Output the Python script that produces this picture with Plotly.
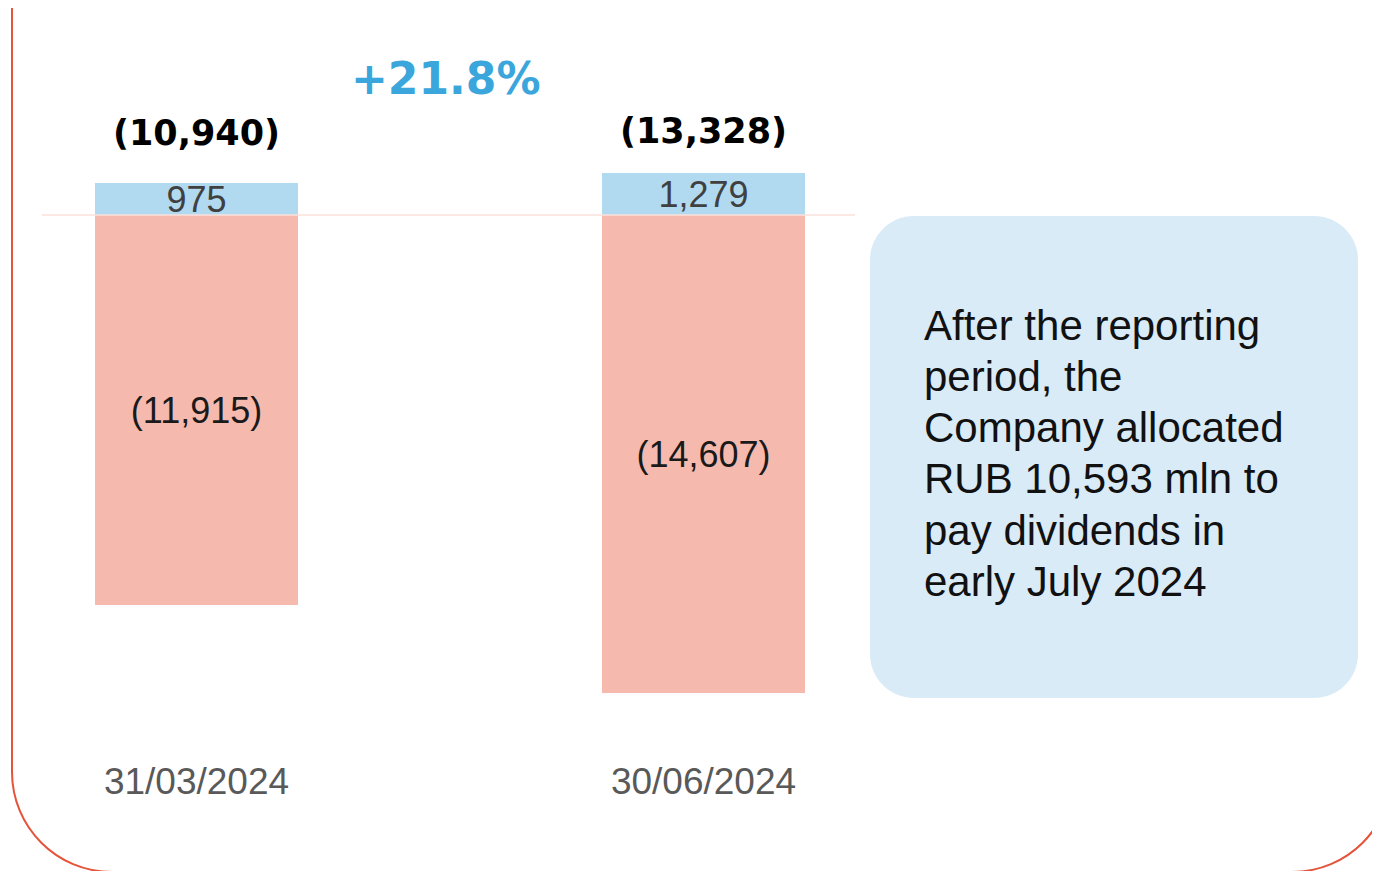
import plotly.graph_objects as go

# ---- data ----
categories = ["31/03/2024", "30/06/2024"]
positive_part = [975, 1279]
negative_part = [-11915, -14607]
note_lines = [
    "After the reporting",
    "period, the",
    "Company allocated",
    "RUB 10,593 mln to",
    "pay dividends in",
    "early July 2024",
]

# ---- derived ----
net = [p + n for p, n in zip(positive_part, negative_part)]
growth = (net[1] / net[0] - 1) * 100


def paren(v):
    return f"({abs(v):,})" if v < 0 else f"{v:,}"


# ---- geometry helpers (page pixel -> paper) ----
W, H = 1380, 871
OFF = 8          # page body margin
MB = 128
PH = H - MB


def px(x):
    return (x - OFF) / W


def py(y):
    return (PH - (y - OFF)) / PH


S = 0.0327  # px per unit
ZERO_PX = 215 - OFF
y_top = ZERO_PX / S
y_bot = -(PH - ZERO_PX) / S

xs = list(range(len(categories)))
c0 = 196.5 - OFF
step = 507.0
x_min = -c0 / step
x_max = (W - c0) / step

BASE_FONT = "Arial, Liberation Sans, sans-serif"
BOLD_FONT = "DejaVu Sans, Arial Black, sans-serif"

fig = go.Figure()
fig.add_trace(go.Bar(
    x=xs, y=positive_part, width=0.4,
    marker=dict(color="#B1DAF0", line=dict(width=0)),
    text=[paren(v) for v in positive_part],
    textposition="inside", insidetextanchor="middle", textangle=0,
    constraintext="none",
    textfont=dict(family=BASE_FONT, size=36, color="#404040"),
    cliponaxis=False, hoverinfo="skip",
))
fig.add_trace(go.Bar(
    x=xs, y=negative_part, width=0.4,
    marker=dict(color="#F6B9AE", line=dict(width=0)),
    text=[paren(v) for v in negative_part],
    textposition="inside", insidetextanchor="middle", textangle=0,
    constraintext="none",
    textfont=dict(family=BASE_FONT, size=36, color="#1A1A1A"),
    cliponaxis=False, hoverinfo="skip",
))

shapes = []
# zero line
shapes.append(dict(type="line", xref="paper", yref="y",
                   x0=px(42), x1=px(855), y0=0, y1=0,
                   line=dict(color="#FBE2DB", width=1.5), layer="above"))


def rounded_rect(x0, y0, x1, y1, r, open_top=False):
    k = 0.5523 * r
    if open_top:
        return (f"M {px(x0)},{py(y0)} L {px(x0)},{py(y1 - r)} "
                f"C {px(x0)},{py(y1 - r + k)} {px(x0 + r - k)},{py(y1)} {px(x0 + r)},{py(y1)} "
                f"L {px(x1 - r)},{py(y1)} "
                f"C {px(x1 - r + k)},{py(y1)} {px(x1)},{py(y1 - r + k)} {px(x1)},{py(y1 - r)} "
                f"L {px(x1)},{py(y0)}")
    return (f"M {px(x0 + r)},{py(y0)} L {px(x1 - r)},{py(y0)} "
            f"C {px(x1 - r + k)},{py(y0)} {px(x1)},{py(y0 + r - k)} {px(x1)},{py(y0 + r)} "
            f"L {px(x1)},{py(y1 - r)} "
            f"C {px(x1)},{py(y1 - r + k)} {px(x1 - r + k)},{py(y1)} {px(x1 - r)},{py(y1)} "
            f"L {px(x0 + r)},{py(y1)} "
            f"C {px(x0 + r - k)},{py(y1)} {px(x0)},{py(y1 - r + k)} {px(x0)},{py(y1 - r)} "
            f"L {px(x0)},{py(y0 + r)} "
            f"C {px(x0)},{py(y0 + r - k)} {px(x0 + r - k)},{py(y0)} {px(x0 + r)},{py(y0)} Z")


# outer frame (open at top, extends beyond the page)
shapes.append(dict(type="path", xref="paper", yref="paper",
                   path=rounded_rect(12, -20, 1392, 872, 100, open_top=True),
                   line=dict(color="#E5533A", width=2), layer="below"))
# note box
shapes.append(dict(type="path", xref="paper", yref="paper",
                   path=rounded_rect(870, 216, 1358, 698, 44),
                   fillcolor="#D9EBF7", line=dict(width=0), layer="below"))

annotations = []
label_shift = [50, 42]
for i, (p, n) in enumerate(zip(positive_part, net)):
    annotations.append(dict(x=xs[i], y=p, xref="x", yref="y",
                            xanchor="center", yanchor="middle",
                            yshift=label_shift[i], showarrow=False,
                            text=paren(n),
                            font=dict(family=BOLD_FONT, size=35, color="#000000",
                                      weight="bold")))
annotations.append(dict(x=px(446), y=py(78), xref="paper", yref="paper",
                        xanchor="center", yanchor="middle",
                        showarrow=False, text=f"+{growth:.1f}%",
                        font=dict(family=BOLD_FONT, size=44, color="#3BA6DC",
                                  weight="bold")))
for j, line in enumerate(note_lines):
    annotations.append(dict(x=px(922), y=py(325 + j * 51.3), xref="paper", yref="paper",
                            xanchor="left", yanchor="middle", showarrow=False,
                            text=line,
                            font=dict(family=BASE_FONT, size=42, color="#111111")))

fig.update_layout(
    width=W, height=H,
    margin=dict(l=0, r=0, t=0, b=MB),
    paper_bgcolor="white", plot_bgcolor="white",
    barmode="relative", bargap=0, showlegend=False,
    hovermode=False,
    shapes=shapes, annotations=annotations,
    xaxis=dict(range=[x_min, x_max], tickvals=xs, ticktext=categories,
               showgrid=False, zeroline=False, showline=False, ticks="",
               tickfont=dict(family=BASE_FONT, size=37, color="#595959"),
               ticklabelstandoff=5),
    yaxis=dict(range=[y_bot, y_top], visible=False, showgrid=False, zeroline=False),
)

fig.write_html("out.html")
